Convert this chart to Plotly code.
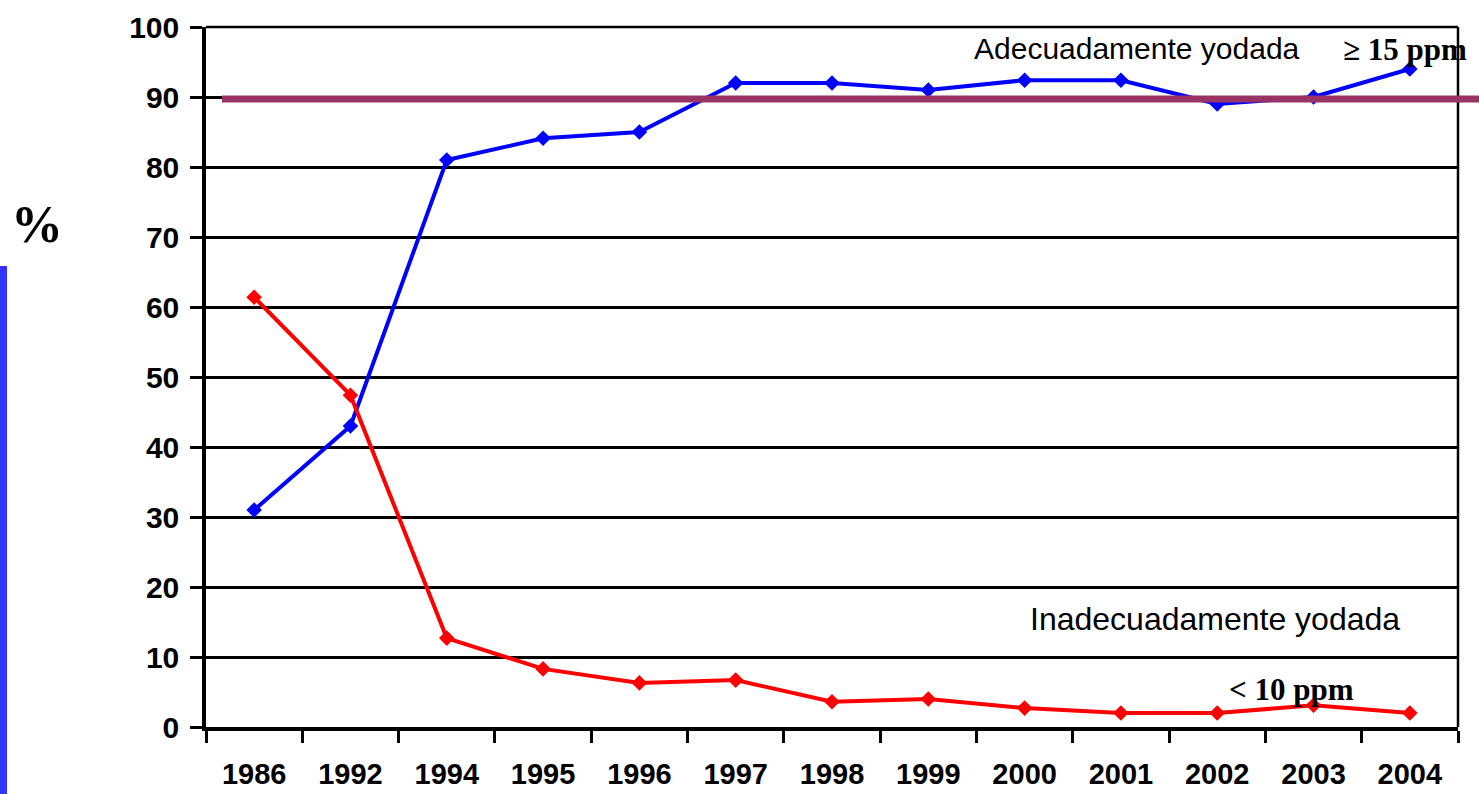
import plotly.graph_objects as go

years = ["1986", "1992", "1994", "1995", "1996", "1997", "1998", "1999",
         "2000", "2001", "2002", "2003", "2004"]
adecuada = [31, 43, 81, 84.1, 85, 92, 92, 91, 92.4, 92.4, 89, 90, 94]
inadecuada = [61.4, 47.4, 12.7, 8.3, 6.3, 6.7, 3.6, 4.0, 2.7, 2.0, 2.0, 3.1, 2.0]
umbral = 89.7
y_ticks = list(range(0, 101, 10))

SANS = "Liberation Sans, Arial, sans-serif"
SERIF = "Liberation Serif, Times New Roman, serif"

# layout geometry (px)
W, H = 1479, 794
L, R, T, B = 206, 21, 27, 67
PW, PH = W - L - R, H - T - B


def px_x(p):
    return (p - L) / PW


def px_y(p):
    return (H - B - p) / PH


fig = go.Figure()
fig.add_trace(go.Scatter(
    x=years, y=adecuada, mode="lines+markers",
    line=dict(color="#0000FF", width=4),
    marker=dict(symbol="diamond", size=12, color="#0000FF"),
    showlegend=False, cliponaxis=False,
))
fig.add_trace(go.Scatter(
    x=years, y=inadecuada, mode="lines+markers",
    line=dict(color="#FF0000", width=4),
    marker=dict(symbol="diamond", size=12, color="#FF0000"),
    showlegend=False, cliponaxis=False,
))

shapes = [
    # threshold line
    dict(type="line", xref="paper", yref="paper",
         x0=px_x(222), x1=px_x(1479), y0=umbral / 100, y1=umbral / 100,
         line=dict(color="#993366", width=7), layer="above"),
    # top border
    dict(type="line", xref="paper", yref="paper", x0=0, x1=1, y0=1, y1=1,
         line=dict(color="black", width=2.5), layer="below"),
    # right border
    dict(type="line", xref="paper", yref="paper", x0=1, x1=1, y0=0, y1=1,
         line=dict(color="black", width=2.5), layer="below"),
    # blue bar on the left
    dict(type="rect", xref="paper", yref="paper",
         x0=px_x(0), x1=px_x(7), y0=px_y(794), y1=px_y(266),
         fillcolor="#3333FF", line=dict(width=0)),
]

annotations = [
    dict(text="Adecuadamente yodada", xref="paper", yref="paper",
         x=px_x(972), y=px_y(48), xanchor="left", yanchor="middle",
         showarrow=False, font=dict(family=SANS, size=30, color="black")),
    dict(text="<b>≥ 15 ppm</b>", xref="paper", yref="paper",
         x=px_x(1341), y=px_y(50), xanchor="left", yanchor="middle",
         showarrow=False, font=dict(family=SERIF, size=31, color="black")),
    dict(text="Inadecuadamente yodada", xref="paper", yref="paper",
         x=px_x(1028), y=px_y(619), xanchor="left", yanchor="middle",
         showarrow=False, font=dict(family=SANS, size=32, color="black")),
    dict(text="<b>< 10 ppm</b>", xref="paper", yref="paper",
         x=px_x(1227), y=px_y(689), xanchor="left", yanchor="middle",
         showarrow=False, font=dict(family=SERIF, size=31, color="black")),
    dict(text="<b>%</b>", xref="paper", yref="paper",
         x=px_x(37), y=px_y(225), xanchor="center", yanchor="middle",
         showarrow=False, font=dict(family=SERIF, size=52, color="black")),
]

fig.update_layout(
    width=W, height=H,
    margin=dict(l=L, r=R, t=T, b=B, pad=0, autoexpand=False),
    paper_bgcolor="white", plot_bgcolor="white",
    shapes=shapes, annotations=annotations,
    xaxis=dict(
        type="category", categoryorder="array", categoryarray=years,
        range=[-0.5, len(years) - 0.5], automargin=False,
        showgrid=False, zeroline=False,
        showline=True, linecolor="black", linewidth=4,
        ticks="outside", tickson="boundaries", ticklen=12, tickwidth=3,
        tickcolor="black", ticklabelstandoff=18,
        tickfont=dict(family=SANS, size=29, color="black", weight="bold"),
    ),
    yaxis=dict(
        range=[0, 100], tickvals=y_ticks, automargin=False,
        ticktext=[str(v) for v in y_ticks],
        showgrid=True, gridcolor="black", gridwidth=2.5,
        zeroline=False,
        showline=True, linecolor="black", linewidth=3.5,
        ticks="outside", ticklen=12, tickwidth=3, tickcolor="black",
        ticklabelstandoff=5,
        tickfont=dict(family=SANS, size=30, color="black", weight="bold"),
    ),
)

fig.write_html(
    "out.html",
    config={"displayModeBar": False},
    post_script="document.body.style.margin='0';document.body.style.overflow='hidden';",
)
